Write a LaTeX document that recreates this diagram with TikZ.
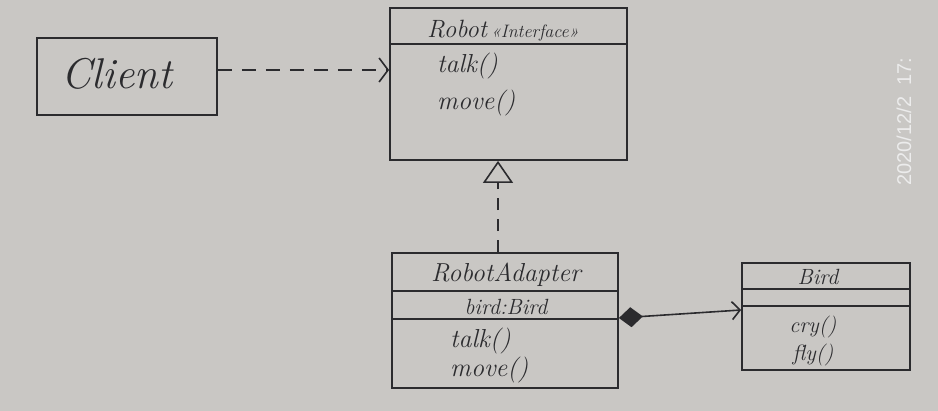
\documentclass[tikz,border=0pt]{standalone}
\usepackage{fontspec}
\usetikzlibrary{arrows.meta}
\newfontfamily\stampfont{Liberation Sans}
\definecolor{paper}{HTML}{C9C7C4}
\definecolor{ink}{HTML}{2B2B2E}
\definecolor{stamp}{HTML}{ECECEC}
\begin{document}
\begin{tikzpicture}[x=1pt,y=-1pt,
  box/.style={draw=ink, line width=1.8pt, rectangle, inner sep=0pt},
  txt/.style={text=ink, inner sep=0pt, font=\itshape\fontsize{26}{26}\selectfont},
  small/.style={text=ink, inner sep=0pt, font=\itshape\fontsize{22}{22}\selectfont},
  conn/.style={draw=ink, line width=1.6pt}]
\useasboundingbox (0,0) rectangle (938,411);
\fill[paper] (0,0) rectangle (938,411);

% Client
\node[box, minimum width=180pt, minimum height=77pt] (client) at (127,76.5) {};
\node[txt, font=\itshape\fontsize{43}{43}\selectfont] (clientname) at (117,74) {Client};

% Robot interface
\node[box, minimum width=237pt, minimum height=152pt] (robot) at (508.5,84) {};
\draw[conn, line width=1.8pt] (robot.north west) ++(0,37) coordinate (rh) -- ++(237,0);
\node[txt, anchor=base west, font=\itshape\fontsize{25}{25}\selectfont] (robotname) at (427,38) {Robot\,\fontsize{18}{18}\selectfont«Interface»};
\node[txt, anchor=base west] (rtalk) at (437,73) {talk()};
\node[txt, anchor=base west] (rmove) at (437,110) {move()};

% RobotAdapter
\node[box, minimum width=226pt, minimum height=135pt] (adapter) at (505,320.5) {};
\draw[conn, line width=1.8pt] (adapter.north west) ++(0,39) -- ++(226,0);
\draw[conn, line width=1.8pt] (adapter.north west) ++(0,67) -- ++(226,0);
\node[txt] (adaptername) at (506,275) {RobotAdapter};
\node[small] (abird) at (506,307) {bird:Bird};
\node[txt, anchor=base west] (atalk) at (450,348) {talk()};
\node[txt, anchor=base west] (amove) at (450,377) {move()};

% Bird
\node[box, minimum width=168pt, minimum height=107pt] (bird) at (826,316.5) {};
\draw[conn, line width=1.8pt] (bird.north west) ++(0,27) -- ++(168,0);
\draw[conn, line width=1.8pt] (bird.north west) ++(0,44) -- ++(168,0);
\node[small] (birdname) at (818,277) {Bird};
\node[small, anchor=base] (bcry) at (813,333) {cry()};
\node[small, anchor=base] (bfly) at (813,361) {fly()};

% Connectors
\draw[conn, dashed, dash pattern=on 14pt off 10pt, -{Straight Barb[length=9pt,width=24pt,line width=1.6pt]}]
  (client.east |- 0,70) -- (robot.west |- 0,70);
\draw[conn, dashed, dash pattern=on 12pt off 9pt, -{Triangle[open,length=22pt,width=30pt,line width=1.6pt]}]
  (adapter.north -| 498,0) -- (robot.south -| 498,0);
\draw[conn, {Diamond[length=24pt,width=20pt]}-{Straight Barb[length=8pt,width=18pt,line width=1.6pt]}]
  (adapter.east |- 0,318) -- (bird.west |- 0,310);

% Timestamp
\node[text=stamp, inner sep=0pt, rotate=90, anchor=base west, font=\stampfont\fontsize{20}{20}\selectfont] (stampnode) at (911,186) {2020/12/2\ \ 17:};
\end{tikzpicture}
\end{document}
